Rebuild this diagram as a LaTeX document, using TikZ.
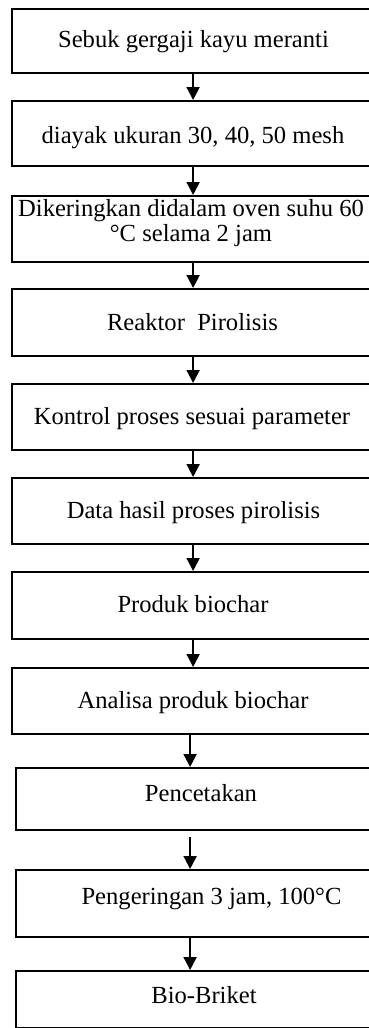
\documentclass[tikz,border=0pt]{standalone}
\usepackage{fontspec}
\setmainfont{Liberation Serif}
\usetikzlibrary{arrows.meta}

\tikzset{
  kotak/.style={draw, line width=2.2pt, inner sep=0pt, anchor=north west, minimum width=#1},
  kotak/.default=368pt,
  teks/.style={inner sep=0pt, anchor=base, font=\fontsize{24.6}{25.5}\selectfont},
  panah/.style={line width=2pt, -{Triangle[width=13pt,length=13pt]}}
}

\begin{document}
\begin{tikzpicture}[x=1pt,y=-1pt]
\useasboundingbox (0,0) rectangle (369,1028);
% kotak proses
\node[kotak, minimum height=64pt] (b1) at (11,8) {};
\node[kotak, minimum height=65pt] (b2) at (11,100) {};
\node[kotak, minimum height=66pt] (b3) at (11,195) {};
\node[kotak, minimum height=67pt] (b4) at (11,288) {};
\node[kotak, minimum height=66pt] (b5) at (11,383) {};
\node[kotak, minimum height=66pt] (b6) at (11,477) {};
\node[kotak, minimum height=67pt] (b7) at (11,571) {};
\node[kotak, minimum height=66pt] (b8) at (11,667) {};
\node[kotak=364pt, minimum height=62pt] (b9) at (15,767) {};
\node[kotak=364pt, minimum height=67pt] (b10) at (15,869) {};
\node[kotak=364pt, minimum height=57pt] (b11) at (15,970) {};
% teks
\node[teks] (t1) at (193.5,47) {Sebuk gergaji kayu meranti};
\node[teks] (t2) at (193,143) {diayak ukuran 30, 40, 50 mesh};
\node[teks, anchor=center, align=center] (t3) at (191,223) {Dikeringkan didalam oven suhu 60\\°C selama 2 jam\hspace{20pt}};
\node[teks] (t4) at (192.5,330) {Reaktor~~Pirolisis};
\node[teks] (t5) at (192,424) {Kontrol proses sesuai parameter};
\node[teks] (t6) at (193.5,518) {Data hasil proses pirolisis};
\node[teks] (t7) at (193,612) {Produk biochar};
\node[teks] (t8) at (193,708) {Analisa produk biochar};
\node[teks] (t9) at (201,801) {Pencetakan};
\node[teks] (t10) at (211.5,904) {Pengeringan 3 jam, 100°C};
\node[teks] (t11) at (204,1003) {Bio-Briket};
% panah
\foreach \a/\b in {b1/b2,b2/b3,b3/b4,b4/b5,b5/b6,b6/b7,b7/b8}
  \draw[panah] ([xshift=-3pt]\a.south) -- ([xshift=-3pt]\b.north);
\draw[panah] ([xshift=-6pt]b8.south) -- ([xshift=-8pt]b9.north);
\draw[panah, shorten <=6pt] ([xshift=-8pt]b9.south) -- ([xshift=-8pt]b10.north);
\draw[panah] ([xshift=-8pt]b10.south) -- ([xshift=-8pt]b11.north);
\end{tikzpicture}
\end{document}
